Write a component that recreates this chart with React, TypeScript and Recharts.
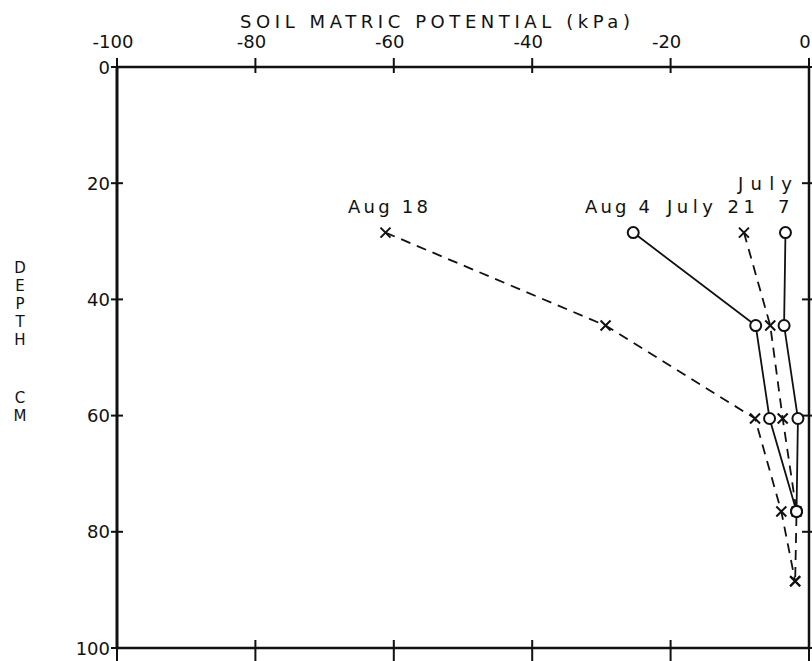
import { ScatterChart, Scatter, XAxis, YAxis } from "recharts";

// soil matric potential (kPa) per sampling depth (cm)
const xTicks = [-100, -80, -60, -40, -20, 0];
const yTicks = [0, 20, 40, 60, 80, 100];
const depths = [28.5, 44.5, 60.5, 76.5, 88.5];
const aug18 = [-61.2, -29.4, -7.8, -4.0, -2.0];
const july21 = [-9.4, -5.6, -3.8, -1.8, -2.0];
const aug4 = [-25.4, -7.7, -5.7, -1.8];
const july7 = [-3.4, -3.6, -1.6, -1.8];

const toPoints = (vals: number[]) => vals.map((p, i) => ({ p, d: depths[i] }));

const W = 812;
const H = 661;
const FONT = "'DejaVu Sans', sans-serif";
const INK = "#111";

const Cross = (props: any) => {
  const { cx, cy } = props;
  return (
    <path
      d={`M${cx - 5},${cy - 5}L${cx + 5},${cy + 5}M${cx - 5},${cy + 5}L${cx + 5},${cy - 5}`}
      stroke={INK}
      strokeWidth={2}
      fill="none"
    />
  );
};

const Ring = (props: any) => {
  const { cx, cy } = props;
  return <circle cx={cx} cy={cy} r={5.5} fill="#fff" stroke={INK} strokeWidth={2} />;
};

const TM = 18;

const TopTick = ({ x, y, payload }: any) => (
  <g>
    <line x1={x} x2={x} y1={y + TM - 9} y2={y + TM + 6} stroke={INK} strokeWidth={2} />
    <text x={x - 4} y={y - 1} textAnchor="middle" fontFamily={FONT} fontSize={18} fill={INK}>
      {payload.value}
    </text>
  </g>
);

const BottomTick = ({ x, y }: any) => (
  <line x1={x} x2={x} y1={y - 8} y2={y + 14} stroke={INK} strokeWidth={2} />
);

const LeftTick = ({ x, y, payload }: any) => (
  <g>
    <line x1={x} x2={x + 12} y1={y} y2={y} stroke={INK} strokeWidth={2} />
    <text x={x - 1} y={y} textAnchor="end" dominantBaseline="central" fontFamily={FONT} fontSize={18} fill={INK}>
      {payload.value}
    </text>
  </g>
);

const RightTick = ({ x, y }: any) => (
  <line x1={x - 7} x2={x + 3} y1={y} y2={y} stroke={INK} strokeWidth={2} />
);

const dashed = { stroke: INK, strokeWidth: 1.8, strokeDasharray: "10 7" };
const solid = { stroke: INK, strokeWidth: 1.8 };

const depthLetters = ["D", "E", "P", "T", "H"];

export default function App() {
  return (
    <div style={{ position: "absolute", left: 0, top: 0, width: W, height: H, background: "#fff" }}>
      <ScatterChart width={W} height={H} margin={{ top: 37, right: 1, bottom: 1, left: 57 }}>
        <XAxis
          xAxisId="top"
          orientation="top"
          type="number"
          dataKey="p"
          domain={[-100, 0]}
          ticks={xTicks}
          interval={0}
          height={30}
          tickSize={0}
          tickMargin={TM}
          tick={TopTick}
          axisLine={{ stroke: INK, strokeWidth: 2.5 }}
        />
        <XAxis
          xAxisId="bot"
          orientation="bottom"
          type="number"
          dataKey="p"
          domain={[-100, 0]}
          ticks={xTicks}
          interval={0}
          height={12}
          tickSize={0}
          tickMargin={0}
          tick={BottomTick}
          axisLine={{ stroke: INK, strokeWidth: 2.5 }}
        />
        <YAxis
          yAxisId="left"
          orientation="left"
          type="number"
          dataKey="d"
          domain={[0, 100]}
          reversed
          ticks={yTicks}
          interval={0}
          width={60}
          tickSize={0}
          tickMargin={6}
          tick={LeftTick}
          axisLine={{ stroke: INK, strokeWidth: 3 }}
        />
        <YAxis
          yAxisId="right"
          orientation="right"
          type="number"
          dataKey="d"
          domain={[0, 100]}
          reversed
          ticks={yTicks}
          interval={0}
          width={2}
          tickSize={0}
          tickMargin={0}
          tick={RightTick}
          axisLine={{ stroke: INK, strokeWidth: 2.5 }}
        />
        {/* dashed series on top/left axes, solid series on bottom/right axes (same domains) */}
        <Scatter xAxisId="top" yAxisId="left" name="Aug 18" data={toPoints(aug18)} line={dashed} lineType="joint" shape={Cross} isAnimationActive={false} />
        <Scatter xAxisId="top" yAxisId="left" name="July 21" data={toPoints(july21)} line={dashed} lineType="joint" shape={Cross} isAnimationActive={false} />
        <Scatter xAxisId="bot" yAxisId="right" name="Aug 4" data={toPoints(aug4)} line={solid} lineType="joint" shape={Ring} isAnimationActive={false} />
        <Scatter xAxisId="bot" yAxisId="right" name="July 7" data={toPoints(july7)} line={solid} lineType="joint" shape={Ring} isAnimationActive={false} />
      </ScatterChart>
      <svg width={W} height={H} style={{ position: "absolute", left: 0, top: 0, pointerEvents: "none" }}>
        <g fontFamily={FONT} fontSize={18} fill={INK}>
          <text x={240} y={28} textLength={390} lengthAdjust="spacing">SOIL MATRIC POTENTIAL (kPa)</text>
          <g fontSize={15}>
            {depthLetters.map((c, i) => (
              <text key={c} x={20} y={273 + i * 18} textAnchor="middle">{c}</text>
            ))}
            <text x={20} y={403} textAnchor="middle">C</text>
            <text x={20} y={421} textAnchor="middle">M</text>
          </g>
          <text x={348} y={213} textLength={80} lengthAdjust="spacing">Aug 18</text>
          <text x={585} y={213} textLength={65} lengthAdjust="spacing">Aug 4</text>
          <text x={667} y={213} textLength={88} lengthAdjust="spacing">July 21</text>
          <text x={778} y={213}>7</text>
          <text x={738} y={190} textLength={54} lengthAdjust="spacing">July</text>
        </g>
      </svg>
    </div>
  );
}
